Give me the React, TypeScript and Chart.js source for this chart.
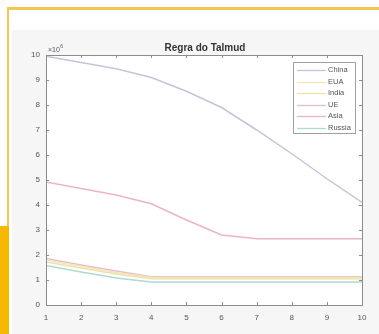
import React, { useEffect, useRef } from "react";
import { Chart, registerables } from "chart.js";

Chart.register(...registerables);

const TITLE = "Regra do Talmud";
const EXPONENT = "6";
const steps = [1, 2, 3, 4, 5, 6, 7, 8, 9, 10];
const xTicks = [1, 2, 3, 4, 5, 6, 7, 8, 9, 10];
const yTicks = [0, 1, 2, 3, 4, 5, 6, 7, 8, 9, 10];
const seriesNames = ["China", "EUA", "India", "UE", "Asia", "Russia"];
const seriesColors = ["#c9c2da", "#f0e6bc", "#ede2a6", "#e8bcc8", "#ebb6c2", "#aedad0"];

// values in units of 10^6
const china = [9.95, 9.7, 9.45, 9.1, 8.55, 7.9, 7.0, 6.05, 5.05, 4.1];
const eua = [1.8, 1.55, 1.3, 1.1, 1.1, 1.1, 1.1, 1.1, 1.1, 1.1];
const india = [1.72, 1.48, 1.24, 1.05, 1.05, 1.05, 1.05, 1.05, 1.05, 1.05];
const ue = [1.86, 1.6, 1.36, 1.13, 1.13, 1.13, 1.13, 1.13, 1.13, 1.13];
const asia = [4.92, 4.66, 4.4, 4.05, 3.4, 2.8, 2.65, 2.65, 2.65, 2.65];
const russia = [1.58, 1.32, 1.08, 0.92, 0.92, 0.92, 0.92, 0.92, 0.92, 0.92];

const allSeries = [china, eua, india, ue, asia, russia];

const FONT = "'Liberation Sans', Arial, sans-serif";
const AXIS_COLOR = "#8c8c8c";
const TEXT_COLOR = "#555555";

const decorPlugin = {
  id: "decor",
  beforeDraw(chart: any) {
    const { ctx, chartArea, width, height } = chart;
    ctx.save();
    ctx.fillStyle = "#ffffff";
    ctx.fillRect(0, 0, width, height);
    ctx.fillStyle = "#f6f6f6";
    ctx.fillRect(12, 30, width - 12, height - 30);
    ctx.fillStyle = "#ffffff";
    ctx.fillRect(chartArea.left, chartArea.top, chartArea.right - chartArea.left, chartArea.bottom - chartArea.top);
    ctx.restore();
  },
  afterDraw(chart: any) {
    const { ctx, chartArea } = chart;
    const xs = chart.scales.x;
    const ys = chart.scales.y;
    const { left, right, top, bottom } = chartArea;
    ctx.save();
    // box
    ctx.strokeStyle = AXIS_COLOR;
    ctx.lineWidth = 1;
    ctx.strokeRect(Math.round(left) + 0.5, Math.round(top) + 0.5, Math.round(right - left), Math.round(bottom - top));
    // inward ticks
    const tl = 3;
    ctx.beginPath();
    xTicks.forEach((v) => {
      const px = Math.round(xs.getPixelForValue(v)) + 0.5;
      ctx.moveTo(px, bottom);
      ctx.lineTo(px, bottom - tl);
      ctx.moveTo(px, top);
      ctx.lineTo(px, top + tl);
    });
    yTicks.forEach((v) => {
      const py = Math.round(ys.getPixelForValue(v)) + 0.5;
      ctx.moveTo(left, py);
      ctx.lineTo(left + tl, py);
      ctx.moveTo(right, py);
      ctx.lineTo(right - tl, py);
    });
    ctx.stroke();

    // exponent label
    ctx.fillStyle = TEXT_COLOR;
    ctx.font = `7px ${FONT}`;
    ctx.textAlign = "left";
    ctx.textBaseline = "alphabetic";
    ctx.fillText("\u00d710", left + 2, top - 3);
    const w = ctx.measureText("\u00d710").width;
    ctx.font = `5px ${FONT}`;
    ctx.fillText(EXPONENT, left + 2 + w + 0.5, top - 7);

    // title
    ctx.fillStyle = "#333333";
    ctx.font = `bold 10px ${FONT}`;
    ctx.textAlign = "center";
    ctx.fillText(TITLE, (left + right) / 2 + 1, top - 4);

    // legend
    const lx = 293, ly = 62, lw = 62, lh = 71;
    ctx.fillStyle = "#ffffff";
    ctx.fillRect(lx, ly, lw, lh);
    ctx.strokeStyle = "#a0a0a0";
    ctx.strokeRect(lx + 0.5, ly + 0.5, lw, lh);
    ctx.font = `7.5px ${FONT}`;
    ctx.textAlign = "left";
    ctx.textBaseline = "middle";
    seriesNames.forEach((name, i) => {
      const yy = ly + 8 + i * 11.5;
      ctx.strokeStyle = seriesColors[i];
      ctx.lineWidth = 1.3;
      ctx.beginPath();
      ctx.moveTo(lx + 4, Math.round(yy) + 0.5);
      ctx.lineTo(lx + 33, Math.round(yy) + 0.5);
      ctx.stroke();
      ctx.fillStyle = TEXT_COLOR;
      ctx.fillText(name, lx + 35, yy);
    });
    ctx.restore();
  },
};

export default function App() {
  const ref = useRef<HTMLCanvasElement>(null);
  useEffect(() => {
    const prevMargin = document.body.style.margin;
    document.body.style.margin = "0";
    const chart = new Chart(ref.current!, {
      type: "line",
      data: {
        datasets: allSeries.map((arr, i) => ({
          label: seriesNames[i],
          data: steps.map((x, j) => ({ x, y: arr[j] })),
          borderColor: seriesColors[i],
          backgroundColor: seriesColors[i],
          borderWidth: 1.5,
          pointRadius: 0,
          tension: 0,
          fill: false,
        })),
      },
      options: {
        animation: false,
        responsive: false,
        maintainAspectRatio: false,
        devicePixelRatio: 1,
        layout: { padding: { top: 55, right: 17, left: 0, bottom: 0 } },
        plugins: {
          legend: { display: false },
          title: { display: false },
          tooltip: { enabled: false },
        },
        scales: {
          x: {
            type: "linear",
            min: 1,
            max: 10,
            afterBuildTicks(scale: any) {
              scale.ticks = xTicks.map((v) => ({ value: v }));
            },
            afterFit(scale: any) {
              scale.height = 29;
            },
            grid: { display: false, drawTicks: false },
            border: { display: false },
            ticks: {
              color: TEXT_COLOR,
              font: { family: FONT, size: 8 },
              padding: 8,
              maxRotation: 0,
              autoSkip: false,
            },
          },
          y: {
            type: "linear",
            min: 0,
            max: 10,
            afterBuildTicks(scale: any) {
              scale.ticks = yTicks.map((v) => ({ value: v }));
            },
            afterFit(scale: any) {
              scale.width = 46;
            },
            grid: { display: false, drawTicks: false },
            border: { display: false },
            ticks: {
              color: TEXT_COLOR,
              font: { family: FONT, size: 8 },
              padding: 6,
              autoSkip: false,
            },
          },
        },
      },
      plugins: [decorPlugin],
    });
    return () => {
      chart.destroy();
      document.body.style.margin = prevMargin;
    };
  }, []);

  return (
    <div style={{ position: "relative", width: 379, height: 334, overflow: "hidden" }}>
      <canvas ref={ref} width={379} height={334} style={{ position: "absolute", left: 0, top: 0 }} />
      <div style={{ position: "absolute", left: 7, top: 7, right: 0, height: 3, background: "#f6c64e" }} />
      <div style={{ position: "absolute", left: 7, top: 7, width: 2, height: 220, background: "#f6c64e" }} />
      <div style={{ position: "absolute", left: 0, top: 226, width: 9, bottom: 0, background: "#f8b800" }} />
    </div>
  );
}
